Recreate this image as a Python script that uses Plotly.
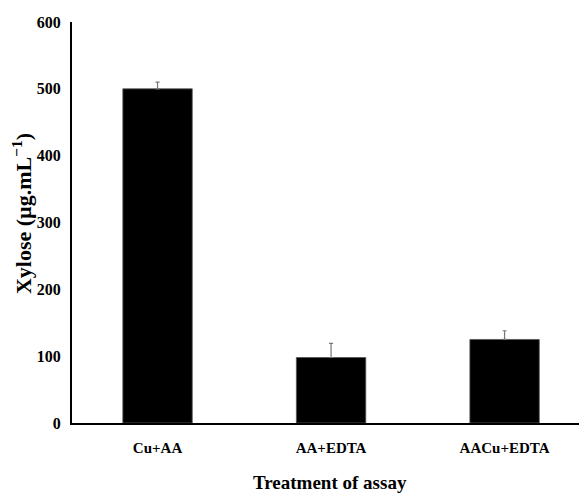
import plotly.graph_objects as go

categories = ["Cu+AA", "AA+EDTA", "AACu+EDTA"]
xylose = [500, 98, 125]
errors = [10, 21, 13]
y_ticks = [0, 100, 200, 300, 400, 500, 600]

font_family = "Liberation Serif, Times New Roman, serif"

fig = go.Figure()
fig.add_trace(go.Bar(
    x=categories,
    y=xylose,
    width=0.4,
    marker=dict(color="black", line=dict(color="#555555", width=0.8)),
    error_y=dict(type="data", symmetric=False, array=errors, arrayminus=[0, 0, 0],
                 color="#777777", thickness=1.2, width=2),
))

fig.update_layout(
    width=579, height=490,
    margin=dict(l=64, r=0, t=14, b=75),
    paper_bgcolor="white", plot_bgcolor="white",
    showlegend=False,
    font=dict(family=font_family, color="black"),
)
fig.update_xaxes(
    range=[-0.493, 2.475], automargin=False,
    showline=True, linecolor="black", linewidth=2,
    ticks="", showgrid=False,
    tickfont=dict(family=font_family, size=15, color="black", weight="bold"),
    ticklabelstandoff=10,
)
fig.update_yaxes(
    range=[0, 600], tickvals=y_ticks, automargin=False,
    showline=True, linecolor="black", linewidth=2,
    ticks="", showgrid=False, zeroline=False,
    tickfont=dict(family=font_family, size=16, color="black", weight="bold"),
    ticklabelstandoff=6,
)
fig.add_annotation(
    text="<b>Treatment of assay</b>", xref="paper", yref="paper",
    x=0.501, y=0, yshift=-59, xanchor="center", yanchor="middle",
    showarrow=False, font=dict(family=font_family, size=19, color="black"),
)
fig.add_annotation(
    text="<b>Xylose (µg.mL<sup>−1</sup>)</b>", xref="paper", yref="paper",
    x=0, xshift=-50, y=0.521, xanchor="center", yanchor="middle",
    textangle=-90, showarrow=False,
    font=dict(family=font_family, size=22, color="black"),
)

fig.write_html("out.html")
